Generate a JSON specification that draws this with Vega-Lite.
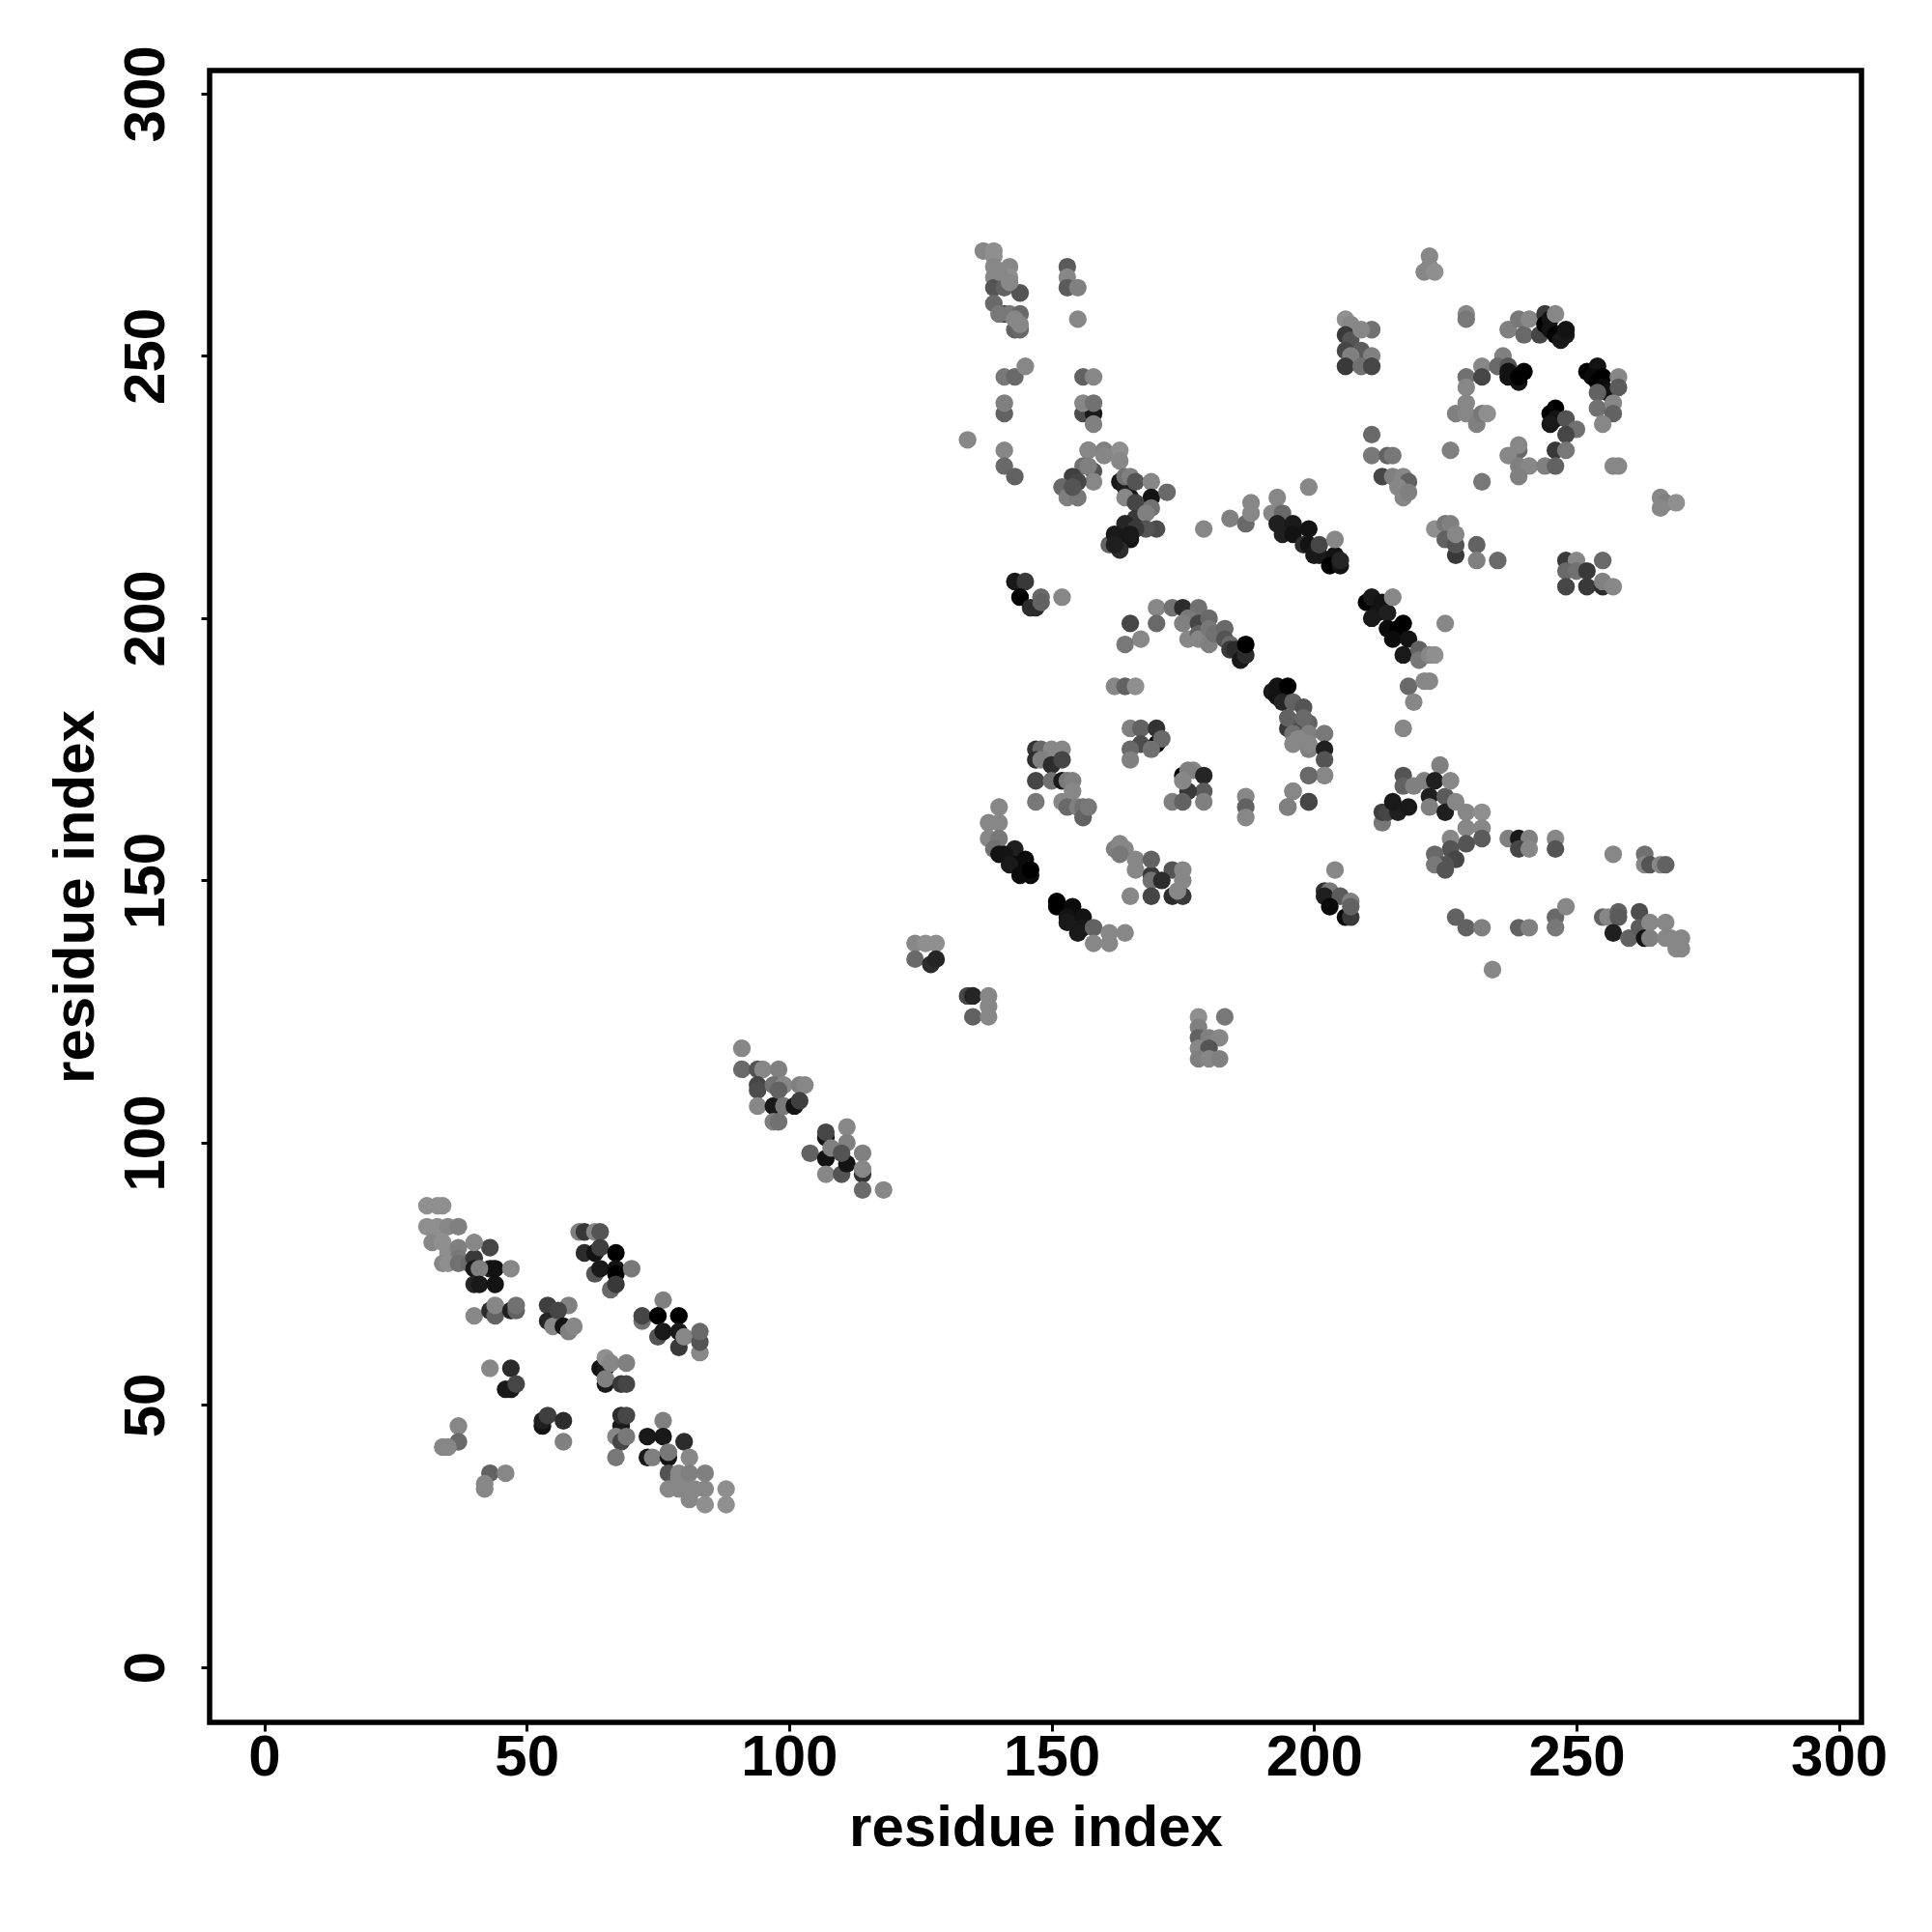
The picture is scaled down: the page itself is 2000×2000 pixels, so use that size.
{"$schema":"https://vega.github.io/schema/vega-lite/v6.json","width":1710,"height":1710,"autosize":"none","padding":{"left":217,"top":73,"right":73,"bottom":217},"background":"white","config":{"view":{"stroke":"black","strokeWidth":5.5,"fill":"white"}},
"data":{"values":[
[31,88,0],[33,88,0],[34,88,0],[31,84,0],[33,84,0],[35,84,5],[37,84,10],[32,81,5],[34,81,0],[35,79,0],[37,80,10],[37,78,15],[34,77,5],[35,77,0],[37,77,20],[39,77,25],[43,80,50],[40,78,60],[40,81,5],[40,76,85],[43,76,80],[44,76,90],[41,76,10],[47,76,5],[40,73,75],[41,73,85],[44,73,90],
[40,67,5],[43,68,70],[44,67,30],[44,69,5],[47,68,80],[48,68,30],[48,69,20],[54,69,55],[54,66,75],[55,65,5],[58,69,10],[56,68,50],[57,65,90],[58,64,10],[59,65,5],
[43,57,5],[47,57,70],[46,53,85],[47,53,85],[48,54,50],[37,46,5],[37,43,25],[34,42,5],[35,42,5],[43,37,30],[46,37,5],[42,35,5],[42,34,5],[53,46,90],[53,47,80],[54,48,55],[57,47,70],[57,43,10],
[64,57,90],[65,57,85],[65,59,0],[66,58,5],[69,58,10],[65,54,85],[65,55,10],[68,54,60],[69,54,50],[68,46,85],[68,48,70],[69,48,50],[67,44,5],[68,43,50],[69,44,15],[67,40,15],
[76,47,10],[73,44,85],[76,44,85],[80,43,70],[73,40,85],[74,40,10],[77,40,90],[77,41,15],[81,40,5],[77,37,40],[79,36,5],[79,37,5],[81,37,10],[84,37,10],[77,34,5],[79,34,5],[82,34,5],[81,34,5],[84,34,5],[81,32,5],[84,31,0],[88,34,0],[88,31,0],
[60,83,10],[61,83,60],[63,83,5],[64,83,40],[61,79,70],[63,79,90],[64,80,55],[67,79,100],[63,75,40],[64,76,85],[67,76,90],[67,75,100],[70,76,15],[66,72,25],[67,73,60],
[76,70,10],[72,66,20],[72,67,50],[75,67,100],[79,67,100],[75,63,40],[76,64,85],[79,61,60],[79,64,85],[80,63,5],[83,60,5],[83,62,40],[83,64,25],
[91,118,5],[91,114,25],[94,114,40],[95,114,5],[98,114,10],[94,111,50],[94,110,45],[94,107,5],[97,111,20],[99,111,5],[102,111,10],[103,111,5],[97,107,85],[98,110,30],[97,104,10],[98,104,20],[99,107,15],[101,107,90],[102,108,55],
[107,101,90],[107,102,50],[111,103,5],[111,100,10],[104,98,30],[107,97,90],[108,99,10],[107,94,5],[110,94,40],[111,96,90],[110,98,40],[114,98,10],[114,94,65],[114,95,5],[114,91,25],[118,91,5],
[137,270,5],[139,270,0],[139,269,0],[142,267,5],[139,267,5],[142,265,0],[139,265,5],[139,263,40],[141,263,30],[144,262,40],[142,264,5],[140,266,5],[139,260,25],[141,258,55],[140,258,15],[142,258,15],[144,258,25],[143,255,30],[144,255,25],[144,256,5],[143,257,5],
[153,267,35],[153,265,5],[153,263,35],[155,263,10],[155,257,5],[141,246,15],[143,246,25],[145,248,5],[141,239,30],[141,241,10],[141,232,5],[141,229,25],[143,227,30],[134,234,5],
[156,246,30],[158,246,5],[156,239,45],[158,239,85],[156,241,5],[158,241,20],[158,237,10],
[158,228,40],[157,232,30],[157,232,5],[160,232,10],[163,232,0],[156,229,20],[157,229,10],[160,231,5],[163,230,5],[158,226,5],[154,227,55],[155,226,50],[152,225,25],[153,223,10],[155,223,15],[154,225,40],
[163,226,85],[164,225,80],[165,223,85],[164,227,20],[165,227,10],[166,226,40],[169,226,5],[169,223,90],[172,224,25],[164,223,5],[166,222,50],[169,221,20],[166,219,60],[170,217,45],[168,220,10],[168,217,40],
[161,214,30],[164,218,75],[166,217,60],[162,216,85],[165,215,90],[163,213,70],[162,214,80],[165,216,85],
[179,217,5],[184,219,10],[187,218,25],[188,222,5],[188,220,5],[192,220,5],[193,223,5],[194,220,25],[193,218,80],[196,218,85],[194,216,80],[196,216,90],[199,217,90],[198,214,70],[199,225,5],[199,214,90],[200,212,85],[201,212,85],[201,214,50],[204,212,90],[203,210,100],[205,210,90],[205,211,75],[204,215,5],
[143,207,85],[145,207,60],[144,204,100],[148,204,25],[146,202,70],[147,202,70],[148,203,30],[152,204,5],
[165,199,50],[170,202,5],[170,199,25],[167,196,5],[164,195,15],[173,202,20],[175,202,70],[178,202,20],[176,200,15],[175,199,10],[178,199,50],[180,200,25],[176,196,5],[178,197,30],[178,196,5],[180,198,15],[180,195,10],[181,197,20],[183,198,25],[183,196,40],[184,195,25],[184,194,60],[185,194,70],[186,192,85],[187,193,70],[187,195,100],
[162,187,5],[164,187,30],[166,187,0],
[192,186,85],[193,185,90],[193,187,90],[195,187,100],[194,184,75],[196,184,30],[198,183,40],[195,179,60],[195,181,30],[198,180,45],[199,180,30],[198,181,25],[196,178,20],[199,178,10],[202,178,15],[196,176,5],[197,177,5],[199,175,10],[199,176,5],[202,175,80],[202,173,40],[199,170,30],[202,170,15],[196,167,10],[195,164,15],[199,165,50],
[217,179,5],[218,187,25],[221,188,5],[222,188,5],[219,184,5],[225,199,5],
[210,203,100],[211,204,85],[213,203,90],[212,201,90],[211,200,85],[214,201,80],[214,198,95],[216,197,95],[216,198,100],[217,199,100],[215,204,5],[215,196,95],[218,196,90],[217,193,85],[220,194,30],[220,192,15],[222,193,5],[223,193,0],
[147,175,65],[148,175,25],[150,175,5],[152,175,5],[147,173,70],[148,173,10],[150,172,70],[152,173,50],[147,169,50],[150,169,20],[152,169,85],[153,169,15],[154,169,10],[147,165,15],[152,165,5],[154,167,5],[153,164,25],[155,164,10],[156,164,20],[156,162,30],[157,164,15],
[140,164,5],[138,161,5],[140,161,5],[138,158,5],[140,158,15],[139,156,20],[143,156,80],[141,155,90],[140,155,90],[143,153,95],[145,154,95],[142,153,85],[144,151,95],[146,151,95],[146,152,100],
[151,146,100],[151,145,100],[154,145,95],[153,143,90],[153,142,85],[156,143,90],[156,141,85],[155,140,85],[158,141,30],[158,138,5],[161,140,5],[164,140,5],[161,138,5],
[124,138,5],[126,138,0],[128,138,0],[124,135,25],[127,134,70],[128,135,75],[134,128,50],[135,128,75],[138,128,5],[138,126,5],[135,124,30],[138,124,5],
[178,124,0],[183,124,15],[178,122,10],[178,120,30],[180,120,10],[182,120,5],[178,118,5],[180,118,40],[178,116,10],[180,116,5],[182,116,10],
[162,156,10],[163,157,5],[164,156,5],[163,155,15],[166,154,5],[166,152,5],[169,151,60],[169,154,30],[169,150,20],[165,147,5],[169,147,50],[173,152,40],[175,152,5],[171,150,70],[175,150,5],[173,147,70],[175,147,60],[174,148,5],
[165,179,10],[167,179,30],[170,179,65],[170,176,100],[171,177,25],[167,176,45],[165,175,25],[165,173,10],[169,175,20],
[175,170,100],[177,171,5],[176,171,10],[179,170,75],[179,167,35],[176,167,60],[173,165,10],[175,165,30],[179,165,10],[175,169,5],
[187,166,5],[187,164,30],[187,162,5],[196,167,5],[195,164,10],[199,165,50],[202,170,5],[199,170,25],
[204,152,5],[202,148,65],[203,148,15],[202,147,80],[205,147,35],[207,146,10],[203,145,95],[206,143,95],[207,143,60],[207,145,30],
[224,172,10],[217,170,40],[217,168,30],[213,161,15],[213,163,55],[214,163,50],[216,163,80],[215,165,85],[218,164,85],[219,168,10],[221,169,10],[223,169,80],[222,166,80],[222,164,10],[225,166,35],[226,169,5],[225,163,80],[227,165,5],[229,163,5],[232,163,0],[229,160,5],[232,160,5],[232,158,35],[229,157,40],[226,158,5],[226,156,40],[227,154,50],[223,155,25],[225,153,40],[223,153,15],[225,152,40],
[237,158,10],[239,158,85],[241,158,10],[239,156,50],[241,156,5],[246,158,5],[246,156,40],[257,155,5],[263,155,20],[263,153,5],[264,153,40],[266,153,5],[267,153,30],
[227,143,30],[229,141,30],[232,141,10],[239,141,30],[241,141,10],[246,143,25],[246,141,15],[248,145,5],[234,133,5],
[255,143,30],[256,143,5],[258,144,30],[258,143,35],[257,140,80],[260,139,30],[262,144,45],[262,141,35],[263,139,90],[264,142,5],[267,142,5],[264,139,10],[267,139,5],[268,139,5],[270,139,5],[269,137,5],[270,137,5],
[229,258,5],[229,257,15],[222,269,5],[221,266,5],[222,267,5],[223,266,0],
[206,257,0],[207,256,5],[211,255,20],[206,254,60],[207,253,40],[209,255,5],[206,251,50],[209,251,35],[207,250,10],[211,250,10],[206,248,60],[209,248,20],[211,248,50],
[237,255,10],[239,257,15],[240,254,25],[241,257,5],[243,254,50],[244,258,60],[244,256,100],[245,257,90],[245,255,90],[246,254,100],[247,253,85],[248,254,85],[248,255,90],[246,258,5],
[236,250,10],[232,248,5],[235,248,25],[237,248,40],[237,247,90],[237,246,90],[239,245,90],[239,246,100],[240,247,100],[229,246,20],[232,246,50],[229,244,5],[229,241,5],[227,239,10],[229,239,5],[231,237,10],[232,239,15],[233,239,0],
[252,247,100],[254,248,90],[253,246,95],[254,245,100],[255,246,100],[255,244,95],[256,243,90],[258,246,5],[258,244,35],[254,243,30],[254,240,20],[257,241,5],[257,239,30],[255,237,5],
[246,240,100],[245,239,100],[246,238,90],[245,237,85],[248,238,40],[250,236,20],[248,235,50],
[246,232,60],[248,232,15],[239,232,25],[239,233,5],[237,231,5],[239,229,10],[241,229,5],[244,229,10],[246,229,30],[239,227,10],[232,226,15],[226,232,10],[257,229,5],[258,229,5],
[211,235,25],[211,231,15],[214,231,30],[215,231,15],[213,227,50],[215,227,10],[217,227,5],[218,226,30],[216,225,5],[217,223,5],[218,224,10],
[223,217,0],[225,218,15],[226,218,10],[225,215,30],[227,212,60],[227,214,40],[227,216,5],[231,214,30],[231,211,10],[235,211,25],
[248,211,60],[250,211,5],[248,209,25],[250,209,20],[255,211,25],[252,209,60],[248,206,50],[252,206,60],[255,206,70],[255,207,10],[257,206,5],
[266,223,5],[267,222,10],[266,221,5],[269,222,0]
]},
"transform":[{"calculate":"datum[0]","as":"i"},{"calculate":"datum[1]","as":"j"},{"calculate":"datum[2]","as":"p"}],
"mark":{"type":"circle","size":335,"opacity":1},
"encoding":{
"x":{"field":"i","type":"quantitative","scale":{"domain":[-10.4,304.3],"nice":false,"zero":false},"axis":{"values":[0,50,100,150,200,250,300],"title":"residue index","grid":false,"domain":false,"tickColor":"black","tickSize":9,"tickWidth":3,"labelFont":"Liberation Sans","labelFontWeight":"bold","labelFontSize":60,"labelColor":"black","labelPadding":-2,"labelOverlap":false,"labelFlush":false,"titleFont":"Liberation Sans","titleFontWeight":"bold","titleFontSize":60,"titleColor":"black","titlePadding":14}},
"y":{"field":"j","type":"quantitative","scale":{"domain":[-10.5,304.4],"nice":false,"zero":false},"axis":{"values":[0,50,100,150,200,250,300],"title":"residue index","grid":false,"domain":false,"tickColor":"black","tickSize":9,"tickWidth":3,"labelFont":"Liberation Sans","labelFontWeight":"bold","labelFontSize":60,"labelColor":"black","labelAngle":-90,"labelAlign":"center","labelBaseline":"bottom","labelPadding":26,"labelOverlap":false,"labelFlush":false,"titleFont":"Liberation Sans","titleFontWeight":"bold","titleFontSize":60,"titleColor":"black","titlePadding":12}},
"color":{"field":"p","type":"quantitative","scale":{"domain":[0,100],"range":["#8f8f8f","#000000"]},"legend":null}
}}
